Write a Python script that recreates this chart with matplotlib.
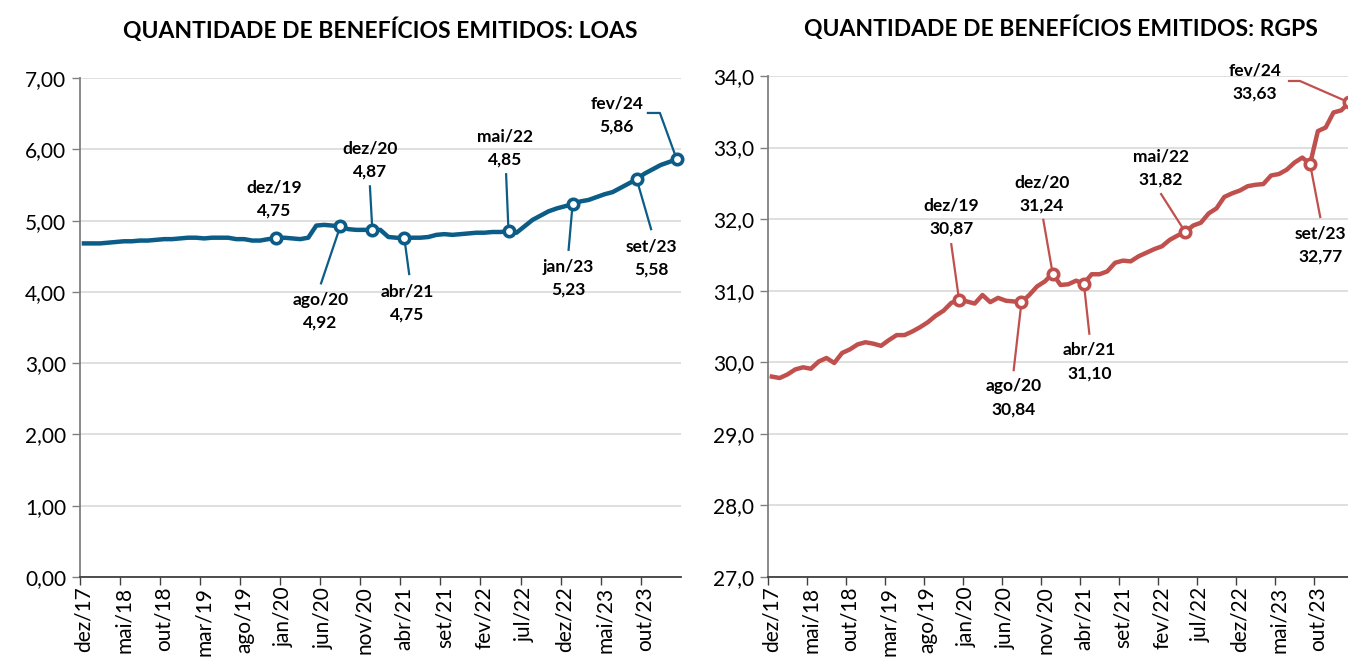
import matplotlib.pyplot as plt

plt.rcParams['font.family'] = ['Lato', 'DejaVu Sans']

meses = ['jan', 'fev', 'mar', 'abr', 'mai', 'jun', 'jul', 'ago', 'set', 'out', 'nov', 'dez']
# dez/17 ... fev/24, monthly
periodos = ['dez/17'] + [f'{m}/{a}' for a in range(18, 24) for m in meses] + ['jan/24', 'fev/24']

loas = [4.68, 4.68, 4.68, 4.69, 4.70, 4.71, 4.71, 4.72, 4.72, 4.73,
        4.74, 4.74, 4.75, 4.76, 4.76, 4.75, 4.76, 4.76, 4.76, 4.74,
        4.74, 4.72, 4.72, 4.74, 4.75, 4.76, 4.75, 4.74, 4.76, 4.93,
        4.94, 4.93, 4.92, 4.88, 4.87, 4.87, 4.87, 4.87, 4.77, 4.76,
        4.75, 4.76, 4.76, 4.77, 4.80, 4.81, 4.80, 4.81, 4.82, 4.83,
        4.83, 4.84, 4.84, 4.85, 4.83, 4.92, 5.01, 5.07, 5.13, 5.17,
        5.20, 5.23, 5.27, 5.29, 5.33, 5.37, 5.40, 5.46, 5.52, 5.58,
        5.66, 5.72, 5.78, 5.82, 5.86]

rgps = [29.80, 29.78, 29.83, 29.90, 29.93, 29.91, 30.01, 30.06, 29.99, 30.13,
        30.18, 30.25, 30.28, 30.26, 30.23, 30.31, 30.38, 30.38, 30.43, 30.49,
        30.56, 30.65, 30.72, 30.83, 30.87, 30.85, 30.82, 30.94, 30.84, 30.90,
        30.86, 30.85, 30.84, 30.94, 31.06, 31.13, 31.24, 31.08, 31.09, 31.14,
        31.10, 31.23, 31.23, 31.27, 31.39, 31.42, 31.41, 31.48, 31.53, 31.58,
        31.62, 31.71, 31.77, 31.82, 31.91, 31.95, 32.08, 32.15, 32.31, 32.36,
        32.40, 32.46, 32.48, 32.49, 32.61, 32.63, 32.69, 32.79, 32.86, 32.77,
        33.23, 33.28, 33.49, 33.52, 33.63]

destaques = ['dez/19', 'ago/20', 'dez/20', 'abr/21', 'mai/22', 'jan/23', 'set/23', 'fev/24']
destaques_rgps = ['dez/19', 'ago/20', 'dez/20', 'abr/21', 'mai/22', 'set/23', 'fev/24']

# label layout: text centre (x in months, y in axis units) and leader line path
layout_loas = {
    'dez/19': dict(txt=(24.3, 5.30), line=None),
    'ago/20': dict(txt=(30.0, 3.73), line=[(30.1, 4.12)]),
    'dez/20': dict(txt=(36.2, 5.85), line=[(36.2, 5.48)]),
    'abr/21': dict(txt=(40.9, 3.84), line=[(41.1, 4.25)]),
    'mai/22': dict(txt=(53.1, 6.02), line=[(53.2, 5.65)]),
    'jan/23': dict(txt=(61.0, 4.19), line=[(61.0, 4.59)]),
    'set/23': dict(txt=(71.3, 4.47), line=[(71.3, 4.88)]),
    'fev/24': dict(txt=(67.0, 6.48), line=[(70.9, 6.51), (72.4, 6.51)]),
}
layout_rgps = {
    'dez/19': dict(txt=(23.5, 32.03), line=[(23.5, 31.65)]),
    'ago/20': dict(txt=(31.5, 29.50), line=[(31.5, 29.89)]),
    'dez/20': dict(txt=(35.1, 32.35), line=[(35.3, 31.99)]),
    'abr/21': dict(txt=(41.2, 30.01), line=[(41.2, 30.40)]),
    'mai/22': dict(txt=(50.4, 32.72), line=[(50.4, 32.35)]),
    'set/23': dict(txt=(70.8, 31.64), line=[(70.8, 32.03)]),
    'fev/24': dict(txt=(62.4, 33.92), line=[(66.8, 33.93), (68.2, 33.93)]),
}

blue = '#0b5c87'
red = '#c0504d'

fig = plt.figure(figsize=(13.48, 6.63), dpi=100)
ax1 = fig.add_axes([0.0593, 0.1297, 0.4457, 0.7526])
ax2 = fig.add_axes([0.5697, 0.1297, 0.4340, 0.7557])


def draw(ax, values, color, ylim, yfmt, title, marks, layout):
    x = [i + 0.5 for i in range(len(values))]
    ax.plot(x, values, color=color, lw=3.2, solid_joinstyle='round', zorder=3, clip_on=False)
    for p in marks:
        i = periodos.index(p)
        v = values[i]
        ax.plot(x[i], v, 'o', ms=7.5, mfc='white', mec=color, mew=2.6, zorder=4, clip_on=False)
        lay = layout[p]
        tx, ty = lay['txt']
        ax.text(tx, ty, f'{p}\n{v:.2f}'.replace('.', ','), ha='center', va='center',
                fontsize=12.5, fontweight='bold', linespacing=1.55, zorder=5)
        if lay['line']:
            pts = lay['line'] + [(x[i], v)]
            ax.plot([q[0] for q in pts], [q[1] for q in pts], color=color, lw=1.6, zorder=2,
                    clip_on=False)

    ax.set_xlim(0, 75)
    ax.set_ylim(*ylim)
    yt = list(range(int(ylim[0]), int(ylim[1]) + 1))
    ax.set_yticks(yt)
    ax.set_yticklabels([yfmt.format(t).replace('.', ',') for t in yt], fontsize=15)
    ax.grid(axis='y', color='#d9d9d9', lw=1.2)
    ax.set_axisbelow(True)

    tick_pos = list(range(0, 75, 5))
    ax.set_xticks(tick_pos)
    ax.set_xticklabels([''] * len(tick_pos))
    ax.set_xticks([t + 0.5 for t in tick_pos], minor=True)
    ax.set_xticklabels([periodos[t] for t in tick_pos], minor=True, rotation=90, fontsize=15)
    ax.tick_params(axis='x', which='major', length=6, width=1, color='#404040')
    ax.tick_params(axis='x', which='minor', length=0, pad=7)
    ax.tick_params(axis='y', length=6, width=1, color='#808080', pad=4)

    for s in ['top', 'right']:
        ax.spines[s].set_visible(False)
    ax.spines['left'].set_color('#808080')
    ax.spines['left'].set_linewidth(1.3)
    ax.spines['bottom'].set_color('#404040')
    ax.spines['bottom'].set_linewidth(1.3)

    ax.set_title(title, fontsize=16.5, fontweight='bold', pad=29)


draw(ax1, loas, blue, (0, 7), '{:.2f}', 'QUANTIDADE DE BENEFÍCIOS EMITIDOS: LOAS',
     destaques, layout_loas)
draw(ax2, rgps, red, (27, 34), '{:.1f}', 'QUANTIDADE DE BENEFÍCIOS EMITIDOS: RGPS',
     destaques_rgps, layout_rgps)

fig.savefig('out.png', dpi=100)
